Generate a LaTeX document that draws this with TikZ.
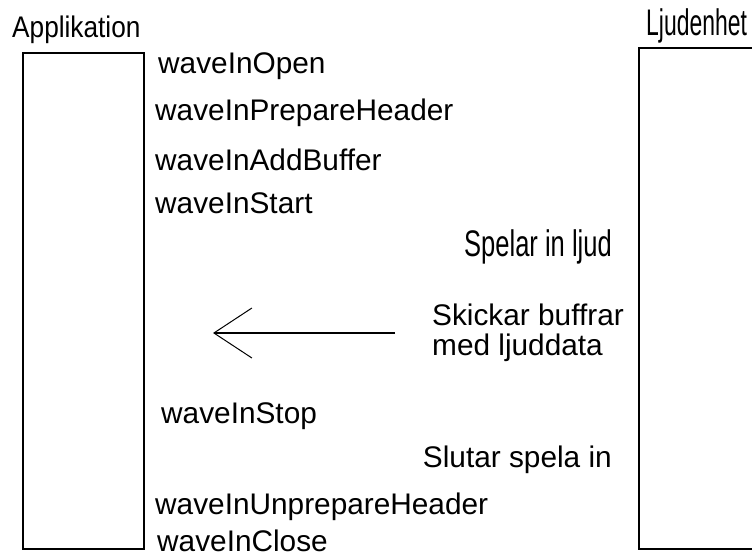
\documentclass[tikz,border=0pt]{standalone}
\usepackage{fontspec}
\setmainfont{Liberation Sans}
\usetikzlibrary{arrows.meta}
\begin{document}
\begin{tikzpicture}[x=1pt, y=-1pt,
        lane/.style={draw, rectangle, line width=1.6pt, inner sep=0pt, anchor=north west},
        call/.style={anchor=base west, inner sep=0pt, font=\fontsize{29.8}{34}\selectfont},
        note/.style={anchor=base east, inner sep=0pt, font=\fontsize{29.8}{34}\selectfont},
        tall/.style={inner sep=0pt, font=\fontsize{37}{40}\selectfont}]
        \useasboundingbox (0,0) rectangle (752,557);
        \clip (0,0) rectangle (752,557);
        % the two parties
        \node [lane, minimum width=121pt, minimum height=496pt] (app) at (22,52) {};
        \node [lane, minimum width=160pt, minimum height=501pt] (dev) at (638,47) {};
        \node [call] (applabel) at (12,37) {\scalebox{0.88}[1]{Applikation}};
        \node [tall, anchor=base west] (devlabel) at (646,35) {\scalebox{0.62}[1]{Ljudenhet}};

        % calls from the application
        \node [call] (open) at (158,73) {waveInOpen};
        \node [call] (prep) at (155,120) {waveInPrepareHeader};
        \node [call] (add) at (155,170) {waveInAddBuffer};
        \node [call] (start) at (155,213) {waveInStart};
        \node [call] (stop) at (161,423) {waveInStop};
        \node [call] (unprep) at (155,514) {waveInUnprepareHeader};
        \node [call] (close) at (157,551) {waveInClose};

        % what the device does
        \node [tall, anchor=base east] (rec) at (612,256) {\scalebox{0.69}[1]{Spelar in ljud}};
        \node [call] (send) at (432,325) {Skickar buffrar};
        \node [call] (data) at (432,355) {med ljuddata};
        \node [note] (end) at (612,467) {Slutar spela in};

        \coordinate (sendtail) at (395,333);
        \coordinate (sendtip) at (213,333);
        \draw[-{Straight Barb[length=38pt, width=50pt, line width=1pt]}, line width=1.5pt] (sendtail) -- (sendtip);
\end{tikzpicture}
\end{document}
